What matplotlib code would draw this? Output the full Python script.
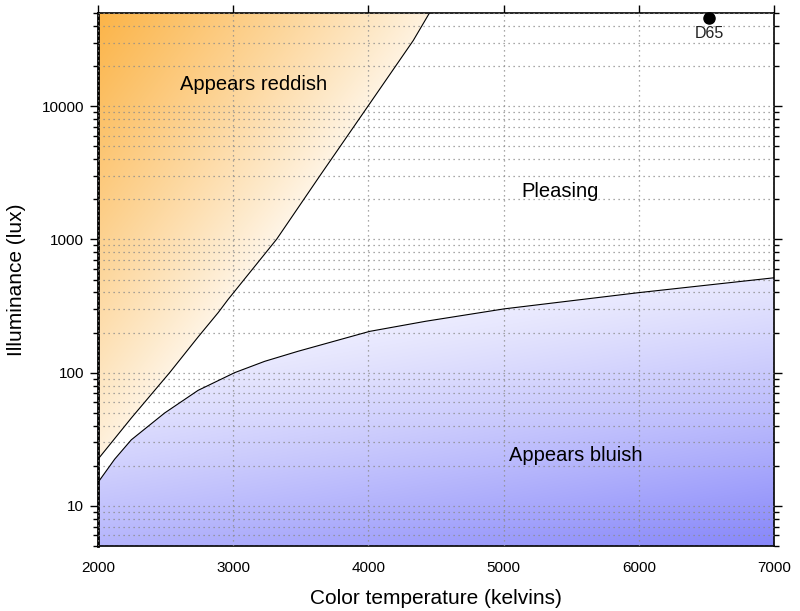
import numpy as np
import matplotlib
matplotlib.use("Agg")
import matplotlib.pyplot as plt
from matplotlib.patches import Polygon
from matplotlib.ticker import LogLocator, NullFormatter

plt.rcParams['font.family'] = ['Liberation Sans', 'DejaVu Sans']

# boundary curves (kelvin, lux)
upper_t = [2000, 2246, 2530, 2740, 2890, 2962, 3322, 3642, 4000, 4332, 4456]
upper_lux = [22.4, 45.6, 100, 185, 283, 354, 1005, 3010, 10100, 31100, 50900]
lower_t = [2000, 2123, 2246, 2493, 2740, 3011, 3233, 3479, 4009, 4424, 5004, 5986, 7000]
lower_lux = [15.0, 22.4, 31.3, 49.8, 73.6, 100, 121.6, 144.6, 204, 243, 301, 397, 515]

d65_t = 6520
d65_lux = 45500

x_ticks = [2000, 3000, 4000, 5000, 6000, 7000]
y_ticks = [10, 100, 1000, 10000]
y_tick_labels = ['10', '100', '1000', '10000']
xmin, xmax = 2000, 7000
ymin, ymax = 5, 50000

fig = plt.figure(figsize=(8, 6.11), dpi=100)
ax = fig.add_axes([98/800, 65/611, 676/800, 533/611])
ax.set_yscale('log')
ax.set_xlim(xmin, xmax)
ax.set_ylim(ymin, ymax)


def gradient_img(c0, c1, strength):
    s = np.clip(strength, 0, 1)[..., None]
    c0 = np.array(c0) / 255.0
    c1 = np.array(c1) / 255.0
    return c0 * (1 - s) + c1 * s


n = 400
u, v = np.meshgrid(np.linspace(0, 1, n), np.linspace(1, 0, n))  # v=1 top

# reddish region: orange at top-left fading to white towards the curve
bx1 = (4456 - 2000) / 5000
by1 = (459 - 13) / 533
uu = u / bx1
ww = (1 - v) / by1
s_red = np.clip(1 - (uu + ww) / 1.15, 0, 1) ** 0.85
img_red = gradient_img((255, 255, 255), (251, 180, 72), s_red)
red_poly = Polygon(list(zip(upper_t, upper_lux)) + [(4456, ymax * 2), (2000, ymax * 2)],
                   closed=True, facecolor='none', edgecolor='none',
                   transform=ax.transData)
ax.add_patch(red_poly)
im1 = ax.imshow(img_red, extent=[0, 1, 0, 1], transform=ax.transAxes,
                aspect='auto', zorder=0.5, interpolation='bilinear')
im1.set_clip_path(red_poly)

# bluish region: white near the curve, darker to the bottom right
top_v = (546 - 278) / 533
wb = np.clip((top_v - v) / top_v, 0, 1)
s_blue = (0.3 * u + 0.7 * wb) ** 1.35
img_blue = gradient_img((255, 255, 255), (135, 135, 250), s_blue)
blue_poly = Polygon(list(zip(lower_t, lower_lux)) + [(7000, ymin / 2), (2000, ymin / 2)],
                    closed=True, facecolor='none', edgecolor='none',
                    transform=ax.transData)
ax.add_patch(blue_poly)
im2 = ax.imshow(img_blue, extent=[0, 1, 0, 1], transform=ax.transAxes,
                aspect='auto', zorder=0.5, interpolation='bilinear')
im2.set_clip_path(blue_poly)

ax.plot(upper_t, upper_lux, color='black', lw=0.8, zorder=3)
ax.plot(lower_t, lower_lux, color='black', lw=0.8, zorder=3)

ax.plot([d65_t], [d65_lux], 'o', color='black', ms=8, zorder=4, clip_on=False)
ax.text(d65_t, 40000, 'D65', ha='center', va='top', fontsize=11.5, color='#222222')

ax.text(3154, 14600, 'Appears reddish', ha='center', va='center', fontsize=14.5)
ax.text(5417, 2300, 'Pleasing', ha='center', va='center', fontsize=14.5)
ax.text(5535, 24, 'Appears bluish', ha='center', va='center', fontsize=14.5)

ax.set_xticks(x_ticks)
ax.set_yticks(y_ticks)
ax.set_yticklabels(y_tick_labels)
ax.yaxis.set_minor_locator(LogLocator(base=10, subs=np.arange(2, 10)))
ax.yaxis.set_minor_formatter(NullFormatter())

ax.grid(True, which='major', axis='both', color='#8c8c8c', ls=(0, (1, 3)), lw=0.9, zorder=2)
ax.grid(True, which='minor', axis='y', color='#8c8c8c', ls=(0, (1, 3)), lw=0.9, zorder=2)
ax.set_axisbelow(False)

ax.tick_params(axis='x', which='major', top=True, bottom=False, direction='out',
               length=6, width=1, labelsize=11, pad=5)
ax.tick_params(axis='y', which='major', left=True, right=True, direction='out',
               length=6, width=1, labelsize=11, pad=4)
ax.tick_params(axis='y', which='minor', left=True, right=True, direction='out',
               length=3.5, width=1)

for side in ['top', 'right', 'bottom']:
    ax.spines[side].set_linewidth(1.2)
ax.spines['left'].set_linewidth(2)

ax.set_xlabel('Color temperature (kelvins)', fontsize=15)
ax.set_ylabel('Illuminance (lux)', fontsize=15)
ax.xaxis.set_label_coords(0.5, -0.08)
ax.yaxis.set_label_coords(-0.106, 0.5)

fig.savefig('out.png', dpi=100)
